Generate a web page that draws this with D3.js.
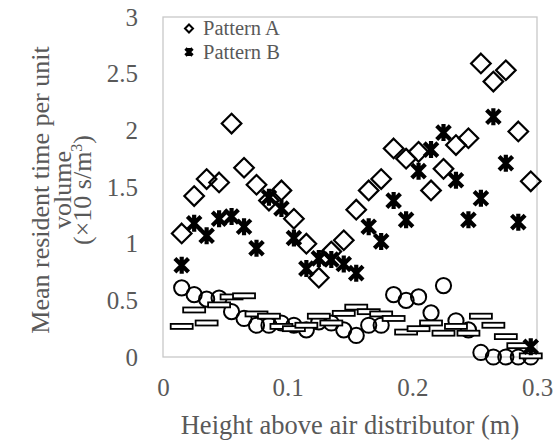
<!DOCTYPE html>
<html>
<head>
<meta charset="utf-8">
<script src="https://cdn.jsdelivr.net/npm/d3@7"></script>
<style>
  html, body { margin: 0; padding: 0; background: #fff; }
</style>
</head>
<body>
<div id="chart"></div>
<script>
// heights above distributor (m), shared by all series
var heights = [0.015, 0.025, 0.035, 0.045, 0.055, 0.065, 0.075, 0.085, 0.095, 0.105,
               0.115, 0.125, 0.135, 0.145, 0.155, 0.165, 0.175, 0.185, 0.195, 0.205,
               0.215, 0.225, 0.235, 0.245, 0.255, 0.265, 0.275, 0.285, 0.295];
var patternA = [1.09, 1.42, 1.57, 1.54, 2.06, 1.67, 1.52, 1.38, 1.47, 1.22,
                1.00, 0.70, 0.93, 1.03, 1.30, 1.47, 1.57, 1.84, 1.75, 1.81,
                1.47, 1.66, 1.87, 1.93, 2.59, 2.43, 2.53, 1.99, 1.55];
var patternB = [0.81, 1.18, 1.07, 1.22, 1.24, 1.15, 0.96, 1.41, 1.31, 1.05,
                0.78, 0.87, 0.86, 0.82, 0.74, 1.15, 1.02, 1.38, 1.21, 1.64,
                1.83, 1.98, 1.56, 1.21, 1.40, 2.12, 1.71, 1.19, 0.09];
var circleVals = [0.61, 0.55, 0.51, 0.52, 0.40, 0.34, 0.28, 0.28, 0.30, 0.28,
                  0.24, 0.31, 0.30, 0.24, 0.19, 0.28, 0.28, 0.55, 0.50, 0.53,
                  0.39, 0.63, 0.32, 0.24, 0.04, 0.00, 0.00, 0.00, 0.00];
var dashVals = [0.27, 0.415, 0.30, 0.46, 0.53, 0.54, 0.38, 0.36, 0.27, 0.25,
                0.28, 0.36, 0.30, 0.385, 0.44, 0.40, 0.38, 0.34, 0.22, 0.25,
                0.30, 0.21, 0.27, 0.21, 0.36, 0.28, 0.18, 0.10, 0.01];
var xTicks = [0, 0.1, 0.2, 0.3];
var yTicks = [0, 0.5, 1, 1.5, 2, 2.5, 3];
var legendNames = ['Pattern A', 'Pattern B'];

var W = 555, H = 443;
var plot = { left: 163, right: 537, top: 17, bottom: 357 };
var grey = '#595959';
var serif = 'Liberation Serif, DejaVu Serif, serif';

var svg = d3.select('#chart').append('svg')
    .attr('width', W).attr('height', H)
    .attr('font-family', serif);

var x = d3.scaleLinear().domain([0, 0.3]).range([plot.left, plot.right]);
var y = d3.scaleLinear().domain([0, 3]).range([plot.bottom, plot.top]);

// plot area border
svg.append('rect')
    .attr('x', plot.left).attr('y', plot.top)
    .attr('width', plot.right - plot.left).attr('height', plot.bottom - plot.top)
    .attr('fill', 'none').attr('stroke', '#c8c8c8').attr('stroke-width', 1.3);

// axes (labels only)
var gx = svg.append('g').attr('transform', `translate(0,${plot.bottom})`)
    .call(d3.axisBottom(x).tickValues(xTicks).tickSize(0).tickPadding(21).tickFormat(d => d));
var gy = svg.append('g').attr('transform', `translate(${plot.left},0)`)
    .call(d3.axisLeft(y).tickValues(yTicks).tickSize(0).tickPadding(25).tickFormat(d => d));
[gx, gy].forEach(g => {
    g.attr('font-family', serif).attr('font-size', 25);
    g.select('.domain').remove();
    g.selectAll('text').attr('fill', grey);
});

// axis titles
svg.append('text')
    .attr('x', (plot.left + plot.right) / 2).attr('y', 434)
    .attr('text-anchor', 'middle').attr('font-size', 26.5).attr('fill', grey)
    .text('Height above air distributor (m)');

var yt = svg.append('text')
    .attr('transform', 'translate(0,190) rotate(-90)')
    .attr('text-anchor', 'middle').attr('font-size', 26).attr('fill', grey);
yt.append('tspan').attr('x', 0).attr('y', 49).text('Mean resident time per unit');
yt.append('tspan').attr('x', 0).attr('y', 71).text('volume');
yt.append('tspan').attr('x', 0).attr('y', 91).text('(×10 s/m')
  .append('tspan').attr('dy', -9).attr('font-size', 16).text('3');
yt.select('tspan:last-child').append('tspan').attr('dy', 9).text(')');

// marker shapes
function diamondPath(r) { return `M0,${-r}L${r},0L0,${r}L${-r},0Z`; }
function starPath(a, c) { return `M${-a},${-a}L${a},${a}M${a},${-a}L${-a},${a}M0,${-c}L0,${c}`; }

var rows = heights.map((h, i) => ({ h: h, a: patternA[i], b: patternB[i], c: circleVals[i], d: dashVals[i] }));
var marks = svg.append('g');

marks.selectAll('circle.c').data(rows).enter().append('circle')
    .attr('class', 'c')
    .attr('cx', d => x(d.h)).attr('cy', d => y(d.c)).attr('r', 7.6)
    .attr('fill', 'none').attr('stroke', '#000').attr('stroke-width', 2);

marks.selectAll('rect.d').data(rows).enter().append('rect')
    .attr('class', 'd')
    .attr('x', d => x(d.h) - 11).attr('y', d => y(d.d) - 2.5)
    .attr('width', 22).attr('height', 5)
    .attr('fill', '#fff').attr('stroke', '#000').attr('stroke-width', 1.8);

marks.selectAll('path.a').data(rows).enter().append('path')
    .attr('class', 'a')
    .attr('transform', d => `translate(${x(d.h)},${y(d.a)})`)
    .attr('d', diamondPath(9.8))
    .attr('fill', 'none').attr('stroke', '#000').attr('stroke-width', 2.2);

marks.selectAll('path.b').data(rows).enter().append('path')
    .attr('class', 'b')
    .attr('transform', d => `translate(${x(d.h)},${y(d.b)})`)
    .attr('d', starPath(6.8, 8.5))
    .attr('fill', 'none').attr('stroke', '#000').attr('stroke-width', 4.2);

// legend
var lg = svg.append('g');
lg.append('path').attr('transform', 'translate(189,28.5)').attr('d', diamondPath(4))
    .attr('fill', 'none').attr('stroke', '#000').attr('stroke-width', 2);
lg.append('path').attr('transform', 'translate(189,52)').attr('d', starPath(3.5, 4))
    .attr('fill', 'none').attr('stroke', '#000').attr('stroke-width', 3.2);
lg.selectAll('text.lg').data(legendNames).enter().append('text')
    .attr('class', 'lg')
    .attr('x', 203).attr('y', (d, i) => 35 + i * 23.5)
    .attr('font-size', 20.5).attr('fill', grey)
    .text(d => d);
</script>
</body>
</html>
